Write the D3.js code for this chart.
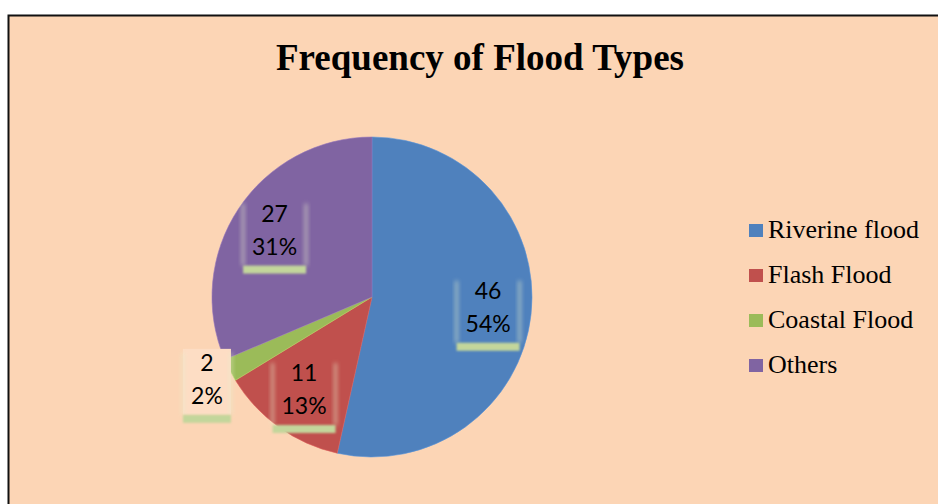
<!DOCTYPE html>
<html>
<head>
<meta charset="utf-8">
<script src="https://cdn.jsdelivr.net/npm/d3@7"></script>
<style>
  body { margin: 0; background: #fff; }
  svg { display: block; }
</style>
</head>
<body>
<svg id="chart" width="938" height="504"></svg>
<script>
const categories = ["Riverine flood", "Flash Flood", "Coastal Flood", "Others"];
const values = [46, 11, 2, 27];
const percents = [54, 13, 2, 31]; // as printed on the chart
const colors = ["#4F81BD", "#C0504D", "#9BBB59", "#8064A2"];
const title = "Frequency of Flood Types";

const svg = d3.select("#chart");
const W = 938, H = 504;

// chart area with border (cut off at right/bottom like the original)
svg.append("rect")
  .attr("x", 8.5).attr("y", 15.5)
  .attr("width", W).attr("height", H)
  .attr("fill", "#FCD5B5")
  .attr("stroke", "#111")
  .attr("stroke-width", 2);

svg.append("text")
  .attr("x", 480)
  .attr("y", 70)
  .attr("text-anchor", "middle")
  .attr("font-family", "'Liberation Serif', 'Times New Roman', serif")
  .attr("font-weight", "bold")
  .attr("font-size", 37)
  .attr("fill", "#000")
  .text(title);

const defs = svg.append("defs");
defs.append("filter").attr("id", "glow")
  .attr("x", "-100%").attr("y", "-30%").attr("width", "300%").attr("height", "160%")
  .append("feGaussianBlur").attr("stdDeviation", 2);
defs.append("filter").attr("id", "glowBar")
  .attr("x", "-30%").attr("y", "-60%").attr("width", "160%").attr("height", "220%")
  .append("feGaussianBlur").attr("stdDeviation", 1.3);

const cx = 372, cy = 297, radius = 160;
const data = categories.map((c, i) => ({ name: c, value: values[i], pct: percents[i], color: colors[i] }));
const total = d3.sum(values);

const pie = d3.pie().sort(null).value(d => d.value);
const arc = d3.arc().innerRadius(0).outerRadius(radius);
const arcs = pie(data);

const g = svg.append("g").attr("transform", `translate(${cx},${cy})`);

g.selectAll("path.slice")
  .data(arcs)
  .join("path")
  .attr("class", "slice")
  .attr("d", arc)
  .attr("fill", d => d.data.color)
  .attr("stroke", d => d3.color(d.data.color).brighter(0.4))
  .attr("stroke-width", 0.6);

// labels: inside for larger slices, outside for tiny ones
const inLabel = d3.arc().innerRadius(radius * 0.73).outerRadius(radius * 0.73);
const outLabel = d3.arc().innerRadius(radius * 1.16).outerRadius(radius * 1.16);

const boxW = 63, boxH = 66, lineGap = 33;

const labels = g.selectAll("g.label")
  .data(arcs)
  .join("g")
  .attr("class", "label")
  .attr("transform", d => {
    const small = d.data.value / total < 0.05;
    const [x, y] = (small ? outLabel : inLabel).centroid(d);
    return `translate(${x},${y})`;
  });

labels.each(function (d) {
  const sel = d3.select(this);
  const small = d.data.value / total < 0.05;
  const w = small ? 48 : boxW;
  if (small) {
    sel.append("rect")
      .attr("x", -w / 2).attr("y", -boxH / 2)
      .attr("width", w).attr("height", boxH)
      .attr("fill", "#FDDDC4");
  }
  // soft glow on the left and right edges
  [-w / 2, w / 2].forEach(x => {
    sel.append("rect")
      .attr("x", x - 1.5).attr("y", -boxH / 2 + 4)
      .attr("width", 3).attr("height", boxH - 4)
      .attr("fill", "#E6EDCC")
      .attr("opacity", 0.55)
      .attr("filter", "url(#glow)");
  });
  // green bottom bar
  sel.append("rect")
    .attr("x", -w / 2).attr("y", boxH / 2)
    .attr("width", w).attr("height", 8)
    .attr("fill", "#C3D69B")
    .attr("filter", "url(#glowBar)");
});

labels.append("text")
  .attr("text-anchor", "middle")
  .attr("y", -lineGap / 2 + 6)
  .attr("font-family", "Lato, 'Open Sans', sans-serif")
  .attr("font-size", 23)
  .attr("fill", "#000")
  .text(d => d.data.value);

labels.append("text")
  .attr("text-anchor", "middle")
  .attr("y", lineGap / 2 + 6)
  .attr("font-family", "Lato, 'Open Sans', sans-serif")
  .attr("font-size", 23)
  .attr("fill", "#000")
  .text(d => d.data.pct + "%");

// legend
const legend = svg.append("g").attr("transform", "translate(749,224)");
const row = legend.selectAll("g")
  .data(data)
  .join("g")
  .attr("transform", (d, i) => `translate(0,${i * 45})`);

row.append("rect")
  .attr("width", 14).attr("height", 13)
  .attr("fill", d => d.color);

row.append("text")
  .attr("x", 19)
  .attr("y", 14)
  .attr("font-family", "'Liberation Serif', 'Times New Roman', serif")
  .attr("font-size", 26)
  .attr("fill", "#000")
  .text(d => d.name);
</script>
</body>
</html>
